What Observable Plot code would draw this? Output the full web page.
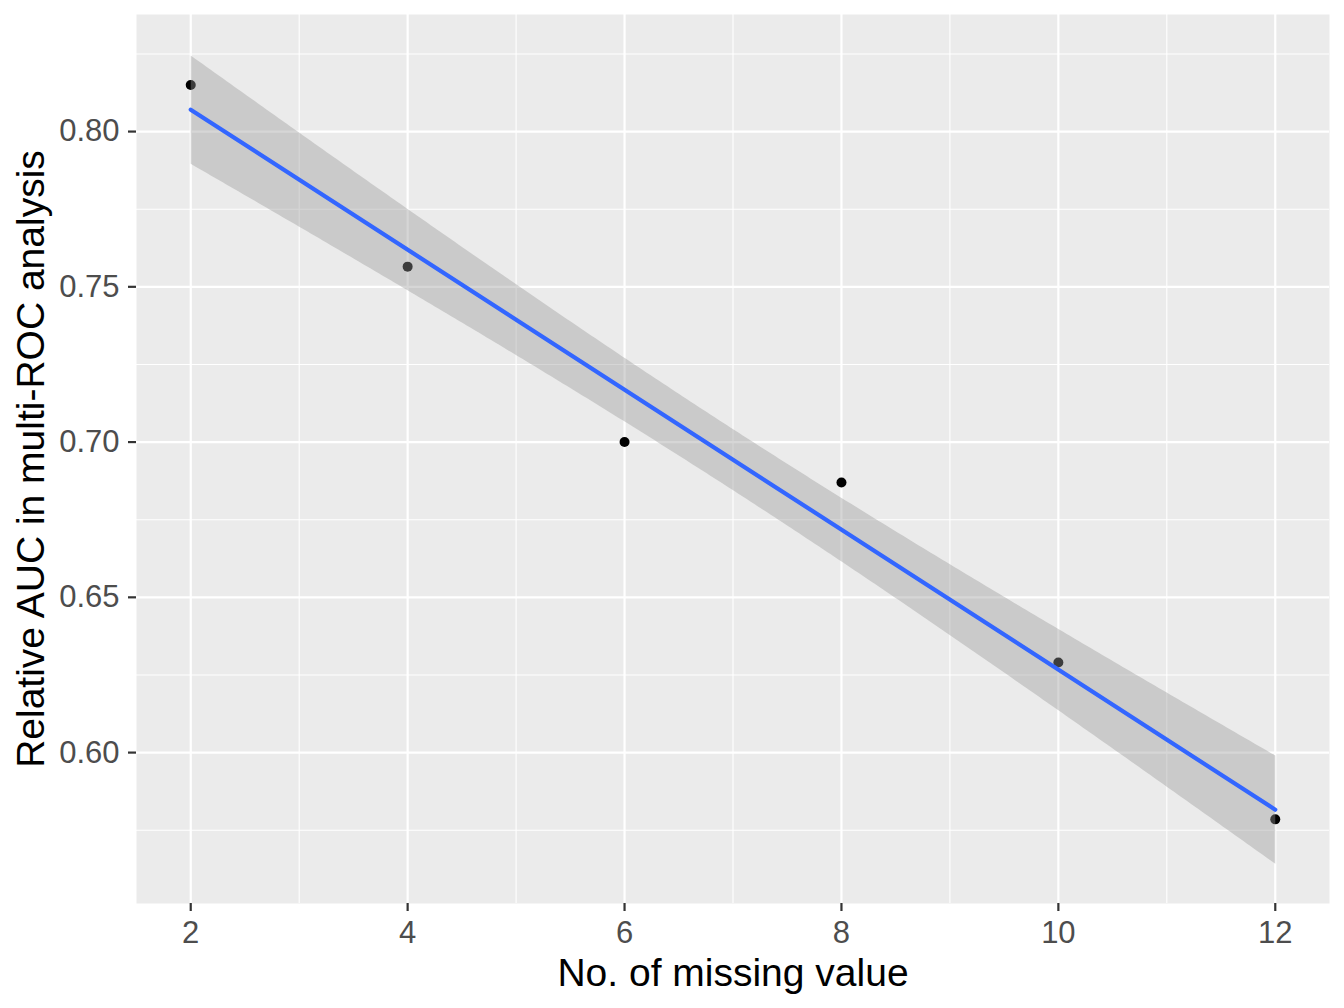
<!DOCTYPE html>
<html><head><meta charset="utf-8">
<script src="https://cdn.jsdelivr.net/npm/d3@7"></script>
<script src="https://cdn.jsdelivr.net/npm/@observablehq/plot@0.6"></script>
<style>body{margin:0;background:#fff}</style>
</head><body><div id="chart"></div>
<script>
const missing = [2, 4, 6, 8, 10, 12];
const auc = [0.815, 0.7565, 0.700, 0.687, 0.629, 0.5785];
const xTicks = [2, 4, 6, 8, 10, 12];
const xMinor = [3, 5, 7, 9, 11];
const yTicks = [0.60, 0.65, 0.70, 0.75, 0.80];
const yMinor = [0.575, 0.625, 0.675, 0.725, 0.775, 0.825];
const xTitle = "No. of missing value";
const yTitle = "Relative AUC in multi-ROC analysis";

const data = missing.map((x, i) => ({x, y: auc[i]}));
const chart = Plot.plot({
  width: 1344, height: 1008,
  marginLeft: 136, marginRight: 15, marginTop: 14, marginBottom: 105,
  x: {domain: [1.5, 12.5]},
  y: {domain: [0.5514, 0.8377]},
  style: {fontFamily: '"Liberation Sans", Arial, sans-serif', background: "#fff"},
  marks: [
    Plot.frame({fill: "#EBEBEB", stroke: "none"}),
    Plot.gridX(xMinor, {stroke: "#fff", strokeOpacity: 1, strokeWidth: 1.1}),
    Plot.gridY(yMinor, {stroke: "#fff", strokeOpacity: 1, strokeWidth: 1.1}),
    Plot.gridX(xTicks, {stroke: "#fff", strokeOpacity: 1, strokeWidth: 2.2}),
    Plot.gridY(yTicks, {stroke: "#fff", strokeOpacity: 1, strokeWidth: 2.2}),
    Plot.dot(data, {x: "x", y: "y", r: 5, fill: "#000", stroke: "none"}),
    Plot.linearRegressionY(data, {x: "x", y: "y", stroke: "#3366FF", strokeWidth: 4.2, fill: "#999999", fillOpacity: 0.4, ci: 0.874}),
    Plot.axisX(xTicks, {tickSize: 8, tickPadding: 9, fontSize: 31, stroke: "#333333", strokeWidth: 2.2, fill: "#4D4D4D", label: null}),
    Plot.axisY(yTicks, {tickSize: 8, tickPadding: 9, fontSize: 31, stroke: "#333333", strokeWidth: 2.2, fill: "#4D4D4D", tickFormat: d3.format(".2f"), label: null}),
    Plot.text([xTitle], {text: d => d, frameAnchor: "bottom", dy: 70.5, lineAnchor: "middle", textAnchor: "middle", fontSize: 39, fill: "#000"}),
    Plot.text([yTitle], {text: d => d, frameAnchor: "left", dx: -105, rotate: -90, lineAnchor: "middle", textAnchor: "middle", fontSize: 39, fill: "#000"})
  ]
});
document.getElementById("chart").appendChild(chart);
</script>
</body></html>
